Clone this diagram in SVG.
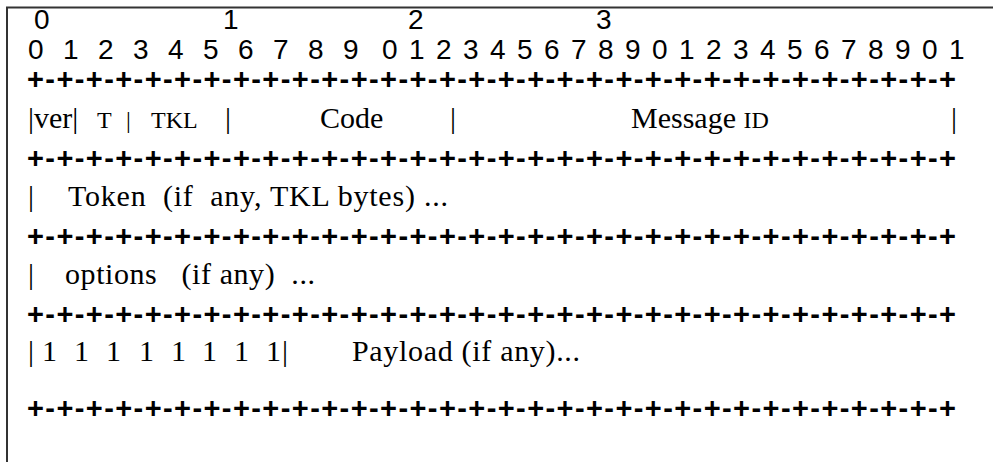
<svg xmlns="http://www.w3.org/2000/svg" width="993" height="462" viewBox="0 0 993 462">
  <style>
    .num { font-family: "Liberation Sans", Arial, sans-serif; font-size: 28px; fill: #000; }
    .rule { font-family: "Liberation Sans", Arial, sans-serif; font-weight: bold; font-size: 29px; fill: #000; }
    .ser { font-family: "Liberation Serif", "Times New Roman", serif; font-size: 30px; fill: #000; }
    .sm { font-size: 24px; }
    .frame { stroke: #333; stroke-width: 2; fill: none; }
  </style>
  <rect width="993" height="462" fill="#fff"/>
  <path class="frame" d="M7 462 V7.5 H993"/>

  <!-- bit ruler -->
  <g id="ruler">
    <text class="num" y="29" x="34 223 408 596">0123</text>
    <text class="num" y="59" x="28 63 98 133 168 203 238 273 308 343 382 409 436 463 490 517 544 571 598 625 652 679 706 733 760 787 814 841 868 895 922 949">01234567890123456789012345678901</text>
  </g>

  <!-- row separators -->
  <g id="rules">
    <text class="rule" x="27" y="89" textLength="929" lengthAdjust="spacing">+-+-+-+-+-+-+-+-+-+-+-+-+-+-+-+-+-+-+-+-+-+-+-+-+-+-+-+-+-+-+-+</text>
    <text class="rule" x="27" y="168" textLength="929" lengthAdjust="spacing">+-+-+-+-+-+-+-+-+-+-+-+-+-+-+-+-+-+-+-+-+-+-+-+-+-+-+-+-+-+-+-+</text>
    <text class="rule" x="27" y="246" textLength="929" lengthAdjust="spacing">+-+-+-+-+-+-+-+-+-+-+-+-+-+-+-+-+-+-+-+-+-+-+-+-+-+-+-+-+-+-+-+</text>
    <text class="rule" x="27" y="324" textLength="929" lengthAdjust="spacing">+-+-+-+-+-+-+-+-+-+-+-+-+-+-+-+-+-+-+-+-+-+-+-+-+-+-+-+-+-+-+-+</text>
    <text class="rule" x="27" y="418" textLength="929" lengthAdjust="spacing">+-+-+-+-+-+-+-+-+-+-+-+-+-+-+-+-+-+-+-+-+-+-+-+-+-+-+-+-+-+-+-+</text>
  </g>

  <!-- header fields -->
  <g id="header">
    <text class="ser" x="28" y="128">|ver|</text>
    <text class="ser sm" x="97" y="128">T</text>
    <text class="ser sm" x="126" y="128">|</text>
    <text class="ser sm" x="151" y="128">TKL</text>
    <text class="ser" x="225" y="128">|</text>
    <text class="ser" x="320" y="128">Code</text>
    <text class="ser" x="450" y="128">|</text>
    <text class="ser" x="631" y="128">Message <tspan class="sm">ID</tspan></text>
    <text class="ser" x="951" y="128">|</text>
  </g>

  <g id="token">
    <text class="ser" x="28" y="206">|</text>
    <text class="ser" x="68" y="206" xml:space="preserve" textLength="380" lengthAdjust="spacing">Token  (if  any, TKL bytes) ...</text>
  </g>

  <g id="options">
    <text class="ser" x="28" y="284">|</text>
    <text class="ser" x="65" y="284" xml:space="preserve" textLength="250" lengthAdjust="spacing">options   (if any)  ...</text>
  </g>

  <g id="payload">
    <text class="ser" y="361" x="28 42 74 106 139 171 202 234 266 282">|11111111|</text>
    <text class="ser" x="352" y="361" textLength="228" lengthAdjust="spacing">Payload (if any)...</text>
  </g>
</svg>
